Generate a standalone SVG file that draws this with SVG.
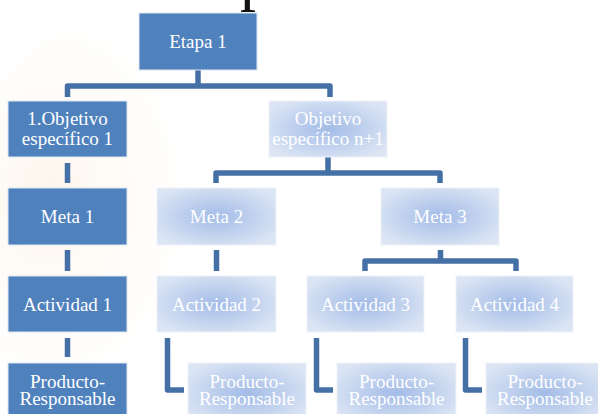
<svg xmlns="http://www.w3.org/2000/svg" width="598" height="414" viewBox="0 0 598 414">
<defs>
<radialGradient id="lg" cx="0.5" cy="0.5" r="0.6">
<stop offset="0" stop-color="#A3BCE7"/>
<stop offset="1" stop-color="#DCE5F4"/>
</radialGradient>
<radialGradient id="bg" cx="0.3" cy="0.45" r="0.6">
<stop offset="0" stop-color="#FBEEDC" stop-opacity="0.6"/>
<stop offset="1" stop-color="#FFFFFF" stop-opacity="0"/>
</radialGradient>
<style>
.dark{fill:#4F81BD;stroke:#DCE6F2;stroke-width:1}
.light{fill:url(#lg);stroke:#EEF2FA;stroke-width:1}
.t{font-family:"Liberation Serif","Times New Roman",serif;font-size:19px;fill:#FFFFFF;text-anchor:middle}
.c{fill:none;stroke:#4470A6;stroke-width:5.5;stroke-linejoin:round;stroke-linecap:butt}
</style>
</defs>
<rect width="598" height="414" fill="#FFFFFF"/>
<ellipse cx="110" cy="220" rx="150" ry="200" fill="url(#bg)"/>
<text x="240" y="-2.5" font-family="Liberation Serif, serif" font-size="64" fill="#111">p</text>
<g id="connectors">
<path class="c" d="M198,70 V86 M67.5,97 V86 H330 V97"/>
<path class="c" d="M67.5,163 V183"/>
<path class="c" d="M328,157 V173 M216,183 V173 H440 V183"/>
<path class="c" d="M67.5,250 V271"/>
<path class="c" d="M216.5,250 V271"/>
<path class="c" d="M440.5,250 V261 M365,271 V261 H516 V271"/>
<path class="c" d="M67.5,338 V357"/>
<path class="c" d="M167.5,338 V390 H184"/>
<path class="c" d="M316.5,338 V390 H333"/>
<path class="c" d="M465.5,338 V390 H482"/>
</g>
<g id="etapa1"><rect class="dark" x="139" y="13" width="118" height="57"/><text class="t" x="198" y="48">Etapa 1</text></g>
<g id="objetivo1"><rect class="dark" x="8" y="101" width="119" height="56"/><text class="t" x="67.5" y="125">1.Objetivo</text><text class="t" x="67.5" y="145">específico 1</text></g>
<g id="objetivon1"><rect class="light" x="269" y="101" width="118" height="56"/><text class="t" x="328" y="125">Objetivo</text><text class="t" x="328" y="145">específico n+1</text></g>
<g id="meta1"><rect class="dark" x="8" y="188" width="119" height="57"/><text class="t" x="67.5" y="223">Meta 1</text></g>
<g id="meta2"><rect class="light" x="157" y="188" width="119" height="57"/><text class="t" x="216.5" y="223">Meta 2</text></g>
<g id="meta3"><rect class="light" x="381" y="188" width="118" height="57"/><text class="t" x="440" y="223">Meta 3</text></g>
<g id="actividad1"><rect class="dark" x="8" y="276" width="119" height="56"/><text class="t" x="67.5" y="310.5">Actividad 1</text></g>
<g id="actividad2"><rect class="light" x="157" y="276" width="119" height="56"/><text class="t" x="216.5" y="310.5">Actividad 2</text></g>
<g id="actividad3"><rect class="light" x="307" y="276" width="117" height="56"/><text class="t" x="365.5" y="310.5">Actividad 3</text></g>
<g id="actividad4"><rect class="light" x="456" y="276" width="117" height="56"/><text class="t" x="514.5" y="310.5">Actividad 4</text></g>
<g id="producto1"><rect class="dark" x="8" y="363" width="119" height="60"/><text class="t" x="67.5" y="388">Producto-</text><text class="t" x="67.5" y="405">Responsable</text></g>
<g id="producto2"><rect class="light" x="188" y="363" width="118" height="60"/><text class="t" x="247" y="388">Producto-</text><text class="t" x="247" y="405">Responsable</text></g>
<g id="producto3"><rect class="light" x="337" y="363" width="119" height="60"/><text class="t" x="396.5" y="388">Producto-</text><text class="t" x="396.5" y="405">Responsable</text></g>
<g id="producto4"><rect class="light" x="486" y="363" width="118" height="60"/><text class="t" x="545" y="388">Producto-</text><text class="t" x="545" y="405">Responsable</text></g>
</svg>
